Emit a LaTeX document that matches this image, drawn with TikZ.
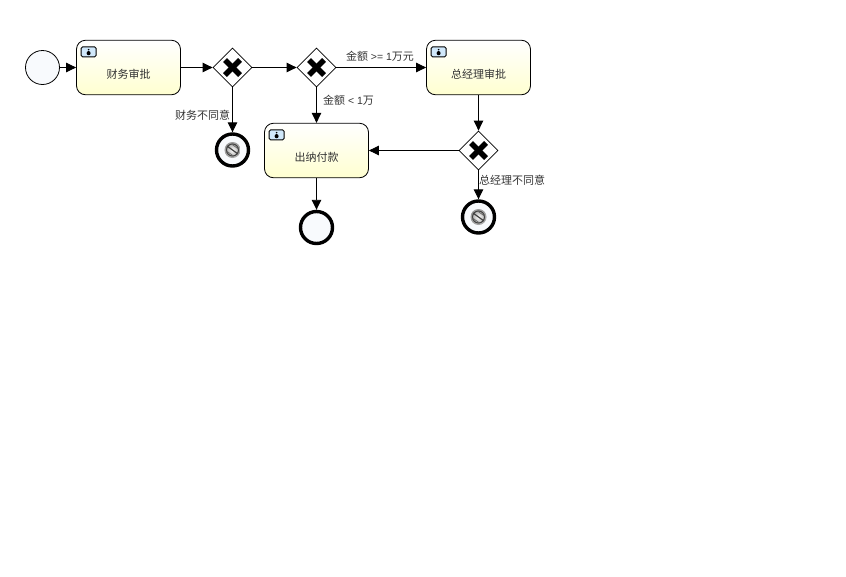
\documentclass[tikz,border=0pt]{standalone}
\usepackage{fontspec}
\usepackage{xcolor}
\setmainfont[Scale=0.95]{Liberation Sans}
\newfontfamily\cjk{Noto Sans CJK SC}
\usetikzlibrary{shapes.geometric, arrows.meta}
\definecolor{FlowInk}{RGB}{0, 0, 0}
\definecolor{FlowText}{RGB}{51, 51, 51}
\definecolor{TaskYellow}{RGB}{255, 255, 208}
\definecolor{EventFill}{RGB}{248, 250, 253}
\definecolor{IconBlue}{RGB}{208, 232, 250}
\tikzset{
  flow/.style={draw=FlowInk, line width=0.9pt, -{Triangle[length=10pt, width=9.5pt]}},
  taskbox/.style={rectangle, rounded corners=9pt, draw=FlowInk, line width=0.8pt,
    top color=white, bottom color=TaskYellow, text=FlowText,
    minimum width=104pt, minimum height=54.5pt, inner sep=0pt,
    text height=21pt, text depth=0pt, font=\fontsize{11}{13}\selectfont\cjk},
  taskicon/.style={rectangle, rounded corners=1.5pt, draw=FlowInk, line width=0.9pt,
    fill=IconBlue, minimum width=15pt, minimum height=10pt, inner sep=0pt},
  gatebox/.style={diamond, draw=FlowInk, line width=0.8pt, fill=white,
    minimum width=39pt, minimum height=39pt, inner sep=0pt},
  startevent/.style={circle, draw=FlowInk, line width=0.8pt, fill=EventFill,
    minimum size=34pt, inner sep=0pt},
  endevent/.style={circle, draw=FlowInk, line width=3.4pt, fill=EventFill,
    minimum size=32pt, inner sep=0pt},
  flowlabel/.style={text=FlowText, inner sep=0pt, font=\fontsize{11}{13}\selectfont},
}
\begin{document}
\begin{tikzpicture}[x=1pt, y=-1pt]
  \useasboundingbox (0,0) rectangle (846,576);
  % events
  \node[startevent] (startA) at (42.5,67.5) {};
  \node[endevent] (endA) at (232.5,150) {};
  \node[endevent] (endB) at (316.5,227.5) {};
  \node[endevent] (endC) at (478.5,217) {};
  % tasks
  \node[taskbox] (taskA) at (128.5,67.5) {财务审批};
  \node[taskbox] (taskB) at (478.5,67.5) {总经理审批};
  \node[taskbox] (taskC) at (316.5,150.5) {出纳付款};
  % gateways
  \node[gatebox] (gateA) at (232.5,67.5) {};
  \node[gatebox] (gateB) at (316.5,67.5) {};
  \node[gatebox] (gateC) at (478.5,150.5) {};
  \foreach \g in {gateA,gateB,gateC} {
    \draw[line width=5.6pt, black] ([shift={(-7.5,-7.5)}]\g.center) -- ([shift={(7.5,7.5)}]\g.center);
    \draw[line width=5.6pt, black] ([shift={(-7.5,7.5)}]\g.center) -- ([shift={(7.5,-7.5)}]\g.center);
  }
  % task icons
  \foreach \t in {taskA,taskB,taskC} {
    \node[taskicon] (\t icon) at ([shift={(12.5,12)}]\t.north west) {};
    \fill[black] ([yshift=2.2]\t icon.center) circle (0.9pt);
    \fill[black] ([yshift=-1.3]\t icon.center) ellipse (2pt and 2.1pt);
  }
  % end event icons
  \foreach \e in {endA,endC} {
    \shade[inner color=white, outer color=black!40] (\e.center) circle (8pt);
    \draw[black!75, line width=1pt] (\e.center) circle (6pt);
    \draw[black!75, line width=1.2pt] ([shift={(-5.5,-4)}]\e.center) -- ([shift={(5.5,4)}]\e.center);
    \draw[black!60, line width=0.7pt] ([shift={(-1,-6)}]\e.center) -- ([shift={(6,-1)}]\e.center);
    \draw[black!60, line width=0.7pt] ([shift={(-6,1)}]\e.center) -- ([shift={(1,6)}]\e.center);
  }
  % connectors
  \draw[flow] (startA) -- (taskA);
  \draw[flow] (taskA) -- (gateA);
  \draw[flow] (gateA) -- (gateB);
  \draw[flow] (gateA) -- (endA);
  \draw[flow] (gateB) -- (taskB);
  \draw[flow] (gateB) -- (taskC);
  \draw[flow] (taskB) -- (gateC);
  \draw[flow] (gateC) -- (taskC);
  \draw[flow] (gateC) -- (endC);
  \draw[flow] (taskC) -- (endB);
  % labels
  \node[flowlabel] (labelA) at (202.5,115) {\cjk 财务不同意};
  \node[flowlabel] (labelB) at (380,56) {{\cjk 金额} >= 1{\cjk 万元}};
  \node[flowlabel] (labelC) at (348.5,100) {{\cjk 金额} < 1{\cjk 万}};
  \node[flowlabel] (labelD) at (512,180) {\cjk 总经理不同意};
\end{tikzpicture}
\end{document}
